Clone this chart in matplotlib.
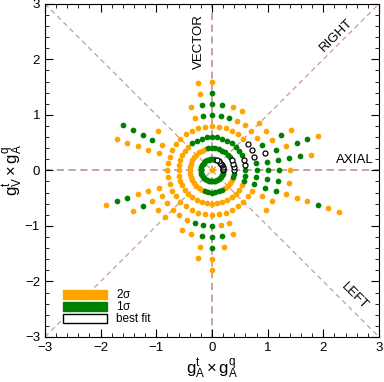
import matplotlib
matplotlib.use('Agg')
import matplotlib.pyplot as plt
import numpy as np
from matplotlib.patches import Rectangle

plt.rcParams['font.family'] = ['Liberation Sans', 'DejaVu Sans']
plt.rcParams['mathtext.fontset'] = 'custom'
plt.rcParams['mathtext.rm'] = 'Liberation Sans'
plt.rcParams['mathtext.it'] = 'Liberation Sans'

# scan points sit on rings (step 0.2) and rays (step 9 deg)
# one char per ray: 0, 9, 18, ... 351 deg
#   o = 2 sigma, g = 1 sigma, b = best fit, . = nothing
angle_step = 9
ring_radius = [0.2, 0.4, 0.6, 0.8, 1.0, 1.2, 1.4, 1.6, 1.8, 2.0, 2.2, 2.4]
ring_02 = "bbbbbbbb" + "gggggggg" + "gggggggg" + "gggggggg" + "gggggggg"
ring_04 = "bbbbgggg" + "ggggoooo" + "oooooooo" + "oooogggg" + "ggoooogg"
ring_06 = "gbbggggg" + "gggggggo" + "oooooooo" + "oooooooo" + "oooooogg"
ring_08 = "ggbbbooo" + "oooooooo" + "oooooooo" + "oooooooo" + "oooooogg"
ring_10 = "ggbgoooo" + "ggggo..." + ".oo...oo" + "ooooggg" + "oo....ogg"
ring_12 = "gggooo.o" + "ogggo..." + "ogo...oo" + "oo.ooggg" + "o...oogg"
ring_14 = "ogog...." + "..go...." + ".go...og" + ".....ogo" + "......oo"
ring_16 = ".ggo...." + "..oo...." + ".go...go" + ".....oo." + "......o."
ring_18 = ".og....." + "........" + ".go...g." + "......o." + "......o."
ring_20 = "..o....." + "........" + "......o." + "........" + "......g."
ring_22 = "........" + "........" + "........" + "........" + "......o."
ring_24 = "........" + "........" + "........" + "........" + "......o."
rings = [ring_02, ring_04, ring_06, ring_08, ring_10, ring_12,
         ring_14, ring_16, ring_18, ring_20, ring_22, ring_24]
origin_class = "o"

pts = {"o": ([], []), "g": ([], []), "b": ([], [])}
pts[origin_class][0].append(0.0)
pts[origin_class][1].append(0.0)
for r, code in zip(ring_radius, rings):
    for j, c in enumerate(code):
        if c in pts:
            th = np.deg2rad(j * angle_step)
            pts[c][0].append(r * np.cos(th))
            pts[c][1].append(r * np.sin(th))

orange = '#ffa500'
green = '#008000'
line_col = '#c49c9c'

fig = plt.figure(figsize=(3.84, 3.82), dpi=100)
ax = fig.add_axes([0.117, 0.118, 0.870, 0.872])

# guide lines
ax.plot([-3, 3], [0, 0], ls=(0, (4, 2.5)), color=line_col, lw=1.3, zorder=1)
ax.plot([0, 0], [-3, 3], ls=(0, (4, 2.5)), color=line_col, lw=1.3, zorder=1)
ax.plot([-3, 3], [-3, 3], ls=(0, (4, 3)), color=line_col, lw=0.9, zorder=1)
ax.plot([-3, 3], [3, -3], ls=(0, (4, 3)), color=line_col, lw=0.9, zorder=1)

ax.scatter(pts["o"][0], pts["o"][1], s=17, color=orange, lw=0, zorder=3)
ax.scatter(pts["g"][0], pts["g"][1], s=17, color=green, lw=0, zorder=4)
ax.scatter(pts["b"][0], pts["b"][1], s=13, facecolor='white', edgecolor='black', lw=0.9, zorder=5)

ax.text(-0.23, 2.32, "VECTOR", rotation=90, ha='center', va='center', fontsize=9.5)
ax.text(2.24, 2.43, "RIGHT", rotation=45, ha='center', va='center', fontsize=9.5)
ax.text(2.56, 0.19, "AXIAL", ha='center', va='center', fontsize=9.5)
ax.text(2.55, -2.26, "LEFT", rotation=-45, ha='center', va='center', fontsize=9.5)

# legend boxes
leg = [(orange, orange, r"2$\sigma$", 0.114),
       (green, green, r"1$\sigma$", 0.078),
       ('white', 'black', "best fit", 0.042)]
for fc, ec, lab, y0 in leg:
    ax.add_patch(Rectangle((0.054, y0), 0.132, 0.026, transform=ax.transAxes,
                           facecolor=fc, edgecolor=ec, lw=1.0, zorder=6))
    ax.text(0.213, y0 + 0.013, lab, transform=ax.transAxes, va='center', fontsize=8.5)

ax.set_xlim(-3, 3)
ax.set_ylim(-3, 3)
ax.set_xticks(np.arange(-3, 4, 1))
ax.set_yticks(np.arange(-3, 4, 1))
ax.set_xticks(np.arange(-3, 3.01, 0.2), minor=True)
ax.set_yticks(np.arange(-3, 3.01, 0.2), minor=True)
ax.tick_params(which='both', direction='in', top=True, right=True, labelsize=9.5)
ax.tick_params(which='major', length=6)
ax.tick_params(which='minor', length=3)
ax.set_xlabel(r"$\mathrm{g_A^t \times g_A^q}$", fontsize=12, labelpad=2)
ax.set_ylabel(r"$\mathrm{g_V^t \times g_A^q}$", fontsize=12, labelpad=0)

fig.savefig('out.png', dpi=100)
